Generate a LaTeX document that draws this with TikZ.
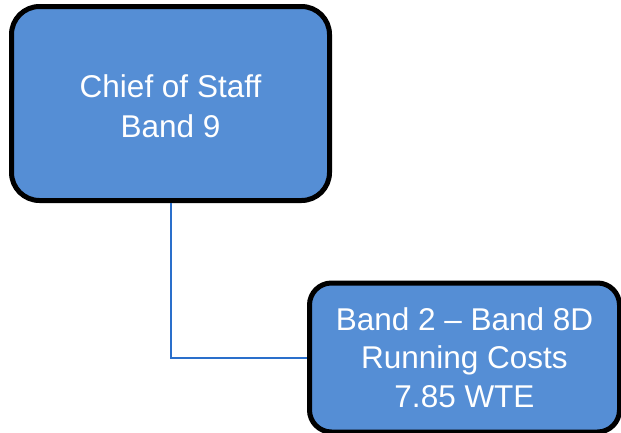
\documentclass[tikz,border=0pt]{standalone}
\usepackage{fontspec}
\setmainfont{Liberation Sans}
\definecolor{boxfill}{HTML}{558ED5}
\definecolor{linkblue}{HTML}{2A6FCB}
\begin{document}
\begin{tikzpicture}[x=1pt,y=-1pt,
  orgbox/.style={draw=black, line width=5pt, fill=boxfill, text=white,
    align=center, font=\fontsize{31.5}{38.5}\selectfont, inner sep=0pt},
  link/.style={draw=linkblue, line width=2pt}]
\useasboundingbox (0,0) rectangle (621,432);
\node[orgbox, rounded corners=28pt, minimum width=318pt, minimum height=194pt]
  (chief) at (170.5,103.5) {};
\node[text=white, align=center, font=\fontsize{31.5}{39.5}\selectfont, inner sep=0pt]
  (chieftext) at (170.5,106) {Chief of Staff\\Band 9};
\node[orgbox, rounded corners=22pt, minimum width=310pt, minimum height=149pt]
  (band) at (464.5,357.5) {Band 2 -- Band 8D\\Running Costs\\7.85 WTE};
\draw[link] (chief.south) |- (band.west);
\end{tikzpicture}
\end{document}
